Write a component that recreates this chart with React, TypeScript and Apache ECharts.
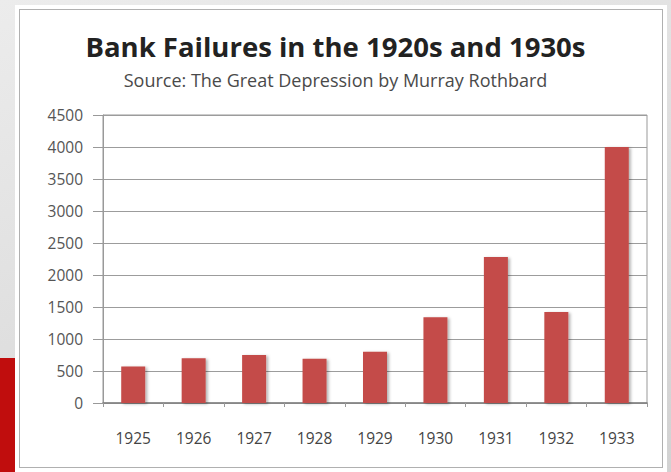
import React, { useEffect, useRef } from "react";
import * as echarts from "echarts";

const years = ["1925", "1926", "1927", "1928", "1929", "1930", "1931", "1932", "1933"];
const failures = [570, 700, 750, 690, 800, 1340, 2280, 1420, 4000];
const yTicks = { min: 0, max: 4500, interval: 500 };
const titleText = "Bank Failures in the 1920s and 1930s";
const subText = "Source: The Great Depression by Murray Rothbard";

export default function App() {
  const ref = useRef<HTMLDivElement>(null);
  useEffect(() => {
    if (!ref.current) return;
    const chart = echarts.init(ref.current, undefined, { renderer: "svg" });
    chart.setOption({
      animation: false,
      backgroundColor: "transparent",
      title: {
        text: titleText,
        subtext: subText,
        left: "center",
        top: 27,
        itemGap: 11,
        textStyle: { fontFamily: "Open Sans", fontWeight: "bold", fontSize: 27.5, color: "#222" },
        subtextStyle: { fontFamily: "Open Sans", fontSize: 18, color: "#4a4a4a" },
      },
      grid: { left: 103, right: 24, top: 115, bottom: 69, show: true, borderColor: "#999", borderWidth: 1 },
      xAxis: {
        type: "category",
        data: years,
        axisLine: { lineStyle: { color: "#808080", width: 1.5 } },
        axisTick: { show: true, length: 4, lineStyle: { color: "#999" } },
        axisLabel: { margin: 27, fontFamily: "Open Sans", fontSize: 15.5, color: "#444" },
      },
      yAxis: {
        type: "value",
        min: yTicks.min,
        max: yTicks.max,
        interval: yTicks.interval,
        axisLine: { show: true, lineStyle: { color: "#999" } },
        axisTick: { show: true, length: 10, lineStyle: { color: "#999" } },
        axisLabel: {
          margin: 20,
          fontFamily: "Open Sans",
          fontSize: 15.5,
          color: "#555",
          formatter: (v: number) => String(v),
        },
        splitLine: { lineStyle: { color: "#9c9c9c" } },
      },
      series: [
        {
          type: "bar",
          data: failures,
          barWidth: 24,
          itemStyle: {
            color: "#c44b48",
            shadowColor: "rgba(0,0,0,0.3)",
            shadowBlur: 3,
            shadowOffsetX: 2,
            shadowOffsetY: 1,
          },
        },
      ],
    });
    return () => chart.dispose();
  }, []);

  return (
    <div
      style={{
        position: "absolute",
        left: 0,
        top: 0,
        width: 671,
        height: 472,
        overflow: "hidden",
        background: "linear-gradient(160deg, #ececec 0%, #dcdcdc 60%, #d2d2d2 100%)",
      }}
    >
      <div style={{ position: "absolute", left: 0, top: 358, width: 15, height: 114, background: "#c00d0d" }} />
      <div style={{ position: "absolute", left: 15, top: 5, width: 652, height: 467, background: "#fff" }} />
      <div
        style={{
          position: "absolute",
          left: 19,
          top: 9,
          width: 644,
          height: 459,
          border: "1.5px solid #b0b0b0",
          boxSizing: "border-box",
        }}
      />
      <div ref={ref} style={{ position: "absolute", left: 0, top: 0, width: 671, height: 472 }} />
    </div>
  );
}
